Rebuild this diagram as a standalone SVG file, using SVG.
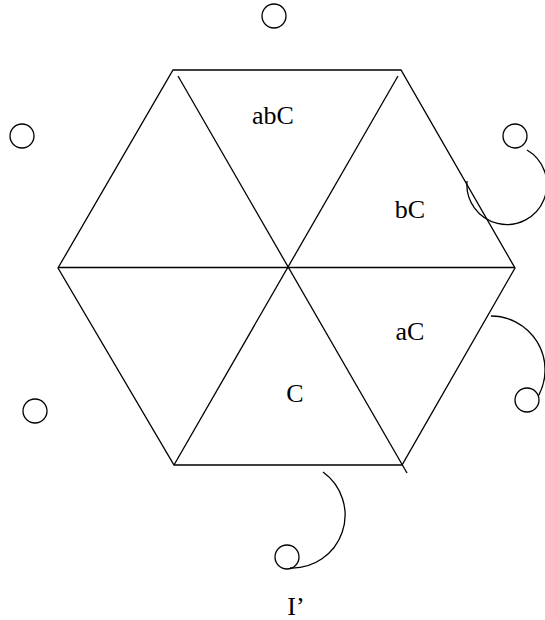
<svg xmlns="http://www.w3.org/2000/svg" width="545" height="620" viewBox="0 0 545 620">
<style>
.s{fill:none;stroke:#000;stroke-width:1.3}
.t{font-family:"Liberation Serif","Times New Roman",serif;font-size:26px;fill:#000;text-anchor:middle}
</style>
<rect width="545" height="620" fill="#fff"/>
<g id="hexagon">
<polygon class="s" points="173,70 401,70 515,268 402,465 174,465 58,268"/>
<line class="s" x1="58" y1="267.5" x2="515" y2="267.5"/>
<line class="s" x1="178" y1="76" x2="407" y2="473"/>
<line class="s" x1="398" y1="76" x2="174" y2="465"/>
</g>
<g id="labels">
<text class="t" x="273" y="124">abC</text>
<text class="t" x="410" y="218">bC</text>
<text class="t" x="410" y="340">aC</text>
<text class="t" x="295" y="402">C</text>
<text class="t" x="296" y="615">I’</text>
</g>
<g id="circles">
<circle id="c1" class="s" cx="274" cy="16" r="12"/>
<circle id="c2" class="s" cx="22" cy="136" r="12"/>
<circle id="c3" class="s" cx="515" cy="136" r="12"/>
<circle id="c4" class="s" cx="35" cy="411" r="12"/>
<circle id="c5" class="s" cx="527" cy="400" r="12"/>
<circle id="c6" class="s" cx="287" cy="557" r="12"/>
</g>
<g id="connectors">
<path class="s" d="M527,150 A40 40 0 1 1 467,181"/>
<path class="s" d="M491,316 A54 54 0 0 1 538.7,395.4"/>
<path class="s" d="M323,472 A53 53 0 0 1 290,568"/>
</g>
</svg>
